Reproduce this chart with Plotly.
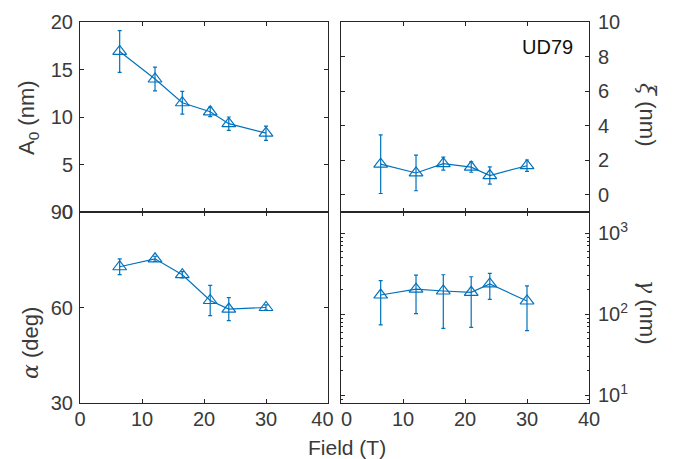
import plotly.graph_objects as go

# Magnetic field values (T) at which each fit was made
field = [6.4, 12.1, 16.5, 21.0, 24.0, 30.0]

# Amplitude A0 (nm) with symmetric errors
a0 = [16.9, 14.0, 11.5, 10.55, 9.3, 8.3]
a0_err = [2.2, 1.25, 1.2, 0.5, 0.7, 0.75]

# Correlation length xi (nm) with symmetric errors
xi = [1.77, 1.26, 1.8, 1.6, 1.11, 1.68]
xi_err = [1.7, 1.03, 0.38, 0.3, 0.5, 0.33]

# Angle alpha (deg) with symmetric errors
alpha = [72.8, 75.3, 70.3, 62.2, 59.5, 60.0]
alpha_err = [2.5, 0.8, 1.0, 4.75, 3.6, 0.8]

# Gamma (nm), log scale, with upper/lower bounds
gamma = [173, 204, 194, 187, 237, 146]
gamma_hi = [260, 305, 308, 291, 321, 225]
gamma_lo = [74, 102, 67, 69, 153, 63]

# Tick labels
x_ticks = [0, 10, 20, 30, 40]
x_text_left = ["0", "10", "20", "30", "40\u00a0\u00a0"]
x_text_right = ["\u00a0\u00a00", "10", "20", "30", "40"]
log_major = [10, 100, 1000]
log_major_text = ["10<sup>1</sup>", "10<sup>2</sup>", "10<sup>3</sup>"]
log_minor = [9] + [m * d for d in (10, 100) for m in range(2, 10)]

W, H = 673, 459
BLUE = "#0072BD"
AX = "#262626"
TXT = "#3a3a3a"
FONT = "Liberation Sans, Arial, Helvetica, sans-serif"
SERIF = "DejaVu Serif, Liberation Serif, serif"


def px_x(x):
    return x / W


def px_y(y):
    return 1 - y / H


left_dom = [px_x(80), px_x(328)]
right_dom = [px_x(341), px_x(589)]
top_dom = [px_y(212), px_y(22)]
bot_dom = [px_y(403), px_y(212)]

fig = go.Figure()

marker = dict(symbol="triangle-up-open", size=12, color=BLUE, line=dict(width=1.2, color=BLUE))
line = dict(color=BLUE, width=1.2)


def sym_err(e):
    return dict(type="data", array=e, visible=True, color=BLUE, thickness=1.2, width=2)


fig.add_trace(go.Scatter(x=field, y=a0, error_y=sym_err(a0_err), mode="lines+markers",
                         marker=marker, line=line, xaxis="x", yaxis="y", showlegend=False))
fig.add_trace(go.Scatter(x=field, y=xi, error_y=sym_err(xi_err), mode="lines+markers",
                         marker=marker, line=line, xaxis="x2", yaxis="y2", showlegend=False))
fig.add_trace(go.Scatter(x=field, y=alpha, error_y=sym_err(alpha_err), mode="lines+markers",
                         marker=marker, line=line, xaxis="x3", yaxis="y3", showlegend=False))
fig.add_trace(go.Scatter(
    x=field, y=gamma,
    error_y=dict(type="data", symmetric=False,
                 array=[h - g for h, g in zip(gamma_hi, gamma)],
                 arrayminus=[g - l for g, l in zip(gamma, gamma_lo)],
                 visible=True, color=BLUE, thickness=1.2, width=2),
    mode="lines+markers", marker=marker, line=line, xaxis="x4", yaxis="y4", showlegend=False))

common = dict(showline=True, linecolor=AX, linewidth=1, mirror="ticks", ticks="inside",
              ticklen=4, tickcolor=AX, tickwidth=1, showgrid=False, zeroline=False,
              automargin=False, tickfont=dict(family=FONT, size=20, color=TXT))

log_range = [0.905, 3.263]
minor_axis = dict(type="log", range=log_range, tickvals=log_minor, showticklabels=False,
                  ticks="inside", ticklen=2, tickcolor=AX, tickwidth=1, showline=False,
                  showgrid=False, zeroline=False, overlaying="y4", anchor="x4",
                  automargin=False)

fig.update_layout(
    width=W, height=H,
    margin=dict(l=0, r=0, t=0, b=0, pad=0, autoexpand=False),
    paper_bgcolor="white", plot_bgcolor="white",
    xaxis=dict(domain=left_dom, range=[0, 40], tickvals=x_ticks, showticklabels=False,
               anchor="y", **common),
    yaxis=dict(domain=top_dom, range=[0, 20], tickvals=[0, 5, 10, 15, 20],
               anchor="x", ticklabelstandoff=2, **common),
    xaxis2=dict(domain=right_dom, range=[0, 40], tickvals=x_ticks, showticklabels=False,
                anchor="y2", **common),
    yaxis2=dict(domain=top_dom, range=[-1, 10], tickvals=[0, 2, 4, 6, 8, 10],
                side="right", anchor="x2", ticklabelstandoff=4, **common),
    xaxis3=dict(domain=left_dom, range=[0, 40], tickvals=x_ticks, ticktext=x_text_left,
                anchor="y3", ticklabelstandoff=-2, **common),
    yaxis3=dict(domain=bot_dom, range=[30, 90], tickvals=[30, 60, 90],
                anchor="x3", ticklabelstandoff=2, **common),
    xaxis4=dict(domain=right_dom, range=[0, 40], tickvals=x_ticks, ticktext=x_text_right,
                anchor="y4", ticklabelstandoff=-2, **common),
    yaxis4=dict(domain=bot_dom, type="log", range=log_range,
                tickvals=log_major, ticktext=log_major_text,
                side="right", anchor="x4", ticklabelstandoff=4, **common),
    yaxis5=dict(side="left", **minor_axis),
    yaxis6=dict(side="right", **minor_axis),
)

lab = dict(family=FONT, size=22, color=TXT)


def greek(ch):
    return f'<span style="font-family:{SERIF}"><i>{ch}</i></span>'


annotations = [
    dict(text="A<sub>0</sub> (nm)", x=px_x(28), y=px_y(118), textangle=-90),
    dict(text=greek("α") + " (deg)", x=px_x(30), y=px_y(343), textangle=-90),
    dict(text=greek("ξ") + " (nm)", x=px_x(648), y=px_y(114), textangle=90),
    dict(text=greek("γ") + " (nm)", x=px_x(648), y=px_y(312), textangle=90),
    dict(text="Field (T)", x=px_x(347), y=px_y(447), textangle=0,
         font=dict(family=FONT, size=21, color=TXT)),
    dict(text="UD79", x=px_x(547), y=px_y(47), textangle=0,
         font=dict(family=FONT, size=20, color="#111111")),
]
for a in annotations:
    fig.add_annotation(xref="paper", yref="paper", showarrow=False,
                       xanchor="center", yanchor="middle",
                       font=a.pop("font", lab), **a)

# Empty traces so the minor-tick axes are drawn
fig.add_trace(go.Scatter(x=[None], y=[None], xaxis="x4", yaxis="y5", showlegend=False,
                         hoverinfo="skip"))
fig.add_trace(go.Scatter(x=[None], y=[None], xaxis="x4", yaxis="y6", showlegend=False,
                         hoverinfo="skip"))

fig.write_html("out.html")
